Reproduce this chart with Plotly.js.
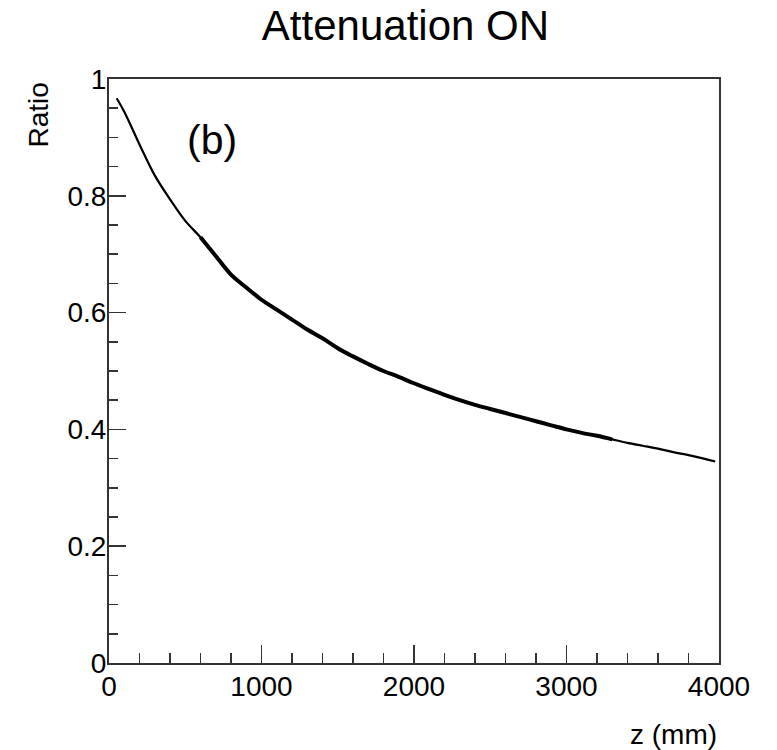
<!DOCTYPE html>
<html>
<head>
<meta charset="utf-8">
<script src="https://cdn.plot.ly/plotly-3.0.1.min.js"></script>
<style>html,body{margin:0;padding:0;background:#fff;}#plot{width:777px;height:750px;}</style>
</head>
<body>
<div id="plot"></div>
<script>
const zValues = [50, 100, 200, 300, 400, 500, 600, 700, 800, 900,
  1000, 1100, 1200, 1300, 1400, 1500, 1600, 1700, 1800, 1900,
  2000, 2100, 2200, 2300, 2400, 2500, 2600, 2700, 2800, 2900,
  3000, 3100, 3200, 3300, 3400, 3500, 3600, 3700, 3800, 3900, 3975];
const ratioValues = [0.967, 0.944, 0.888, 0.835, 0.794, 0.757, 0.729, 0.697, 0.665, 0.643,
  0.622, 0.605, 0.588, 0.571, 0.556, 0.539, 0.525, 0.512, 0.500, 0.490,
  0.479, 0.469, 0.459, 0.450, 0.442, 0.435, 0.428, 0.421, 0.414, 0.407,
  0.400, 0.394, 0.389, 0.383, 0.377, 0.372, 0.367, 0.361, 0.356, 0.350, 0.345];
const xTickVals = [0, 1000, 2000, 3000, 4000];
const xTickText = ['0', '1000', '2000', '3000', '4000'];
const yTickVals = [0, 0.2, 0.4, 0.6, 0.8, 1];
const yTickText = ['0', '0.2', '0.4', '0.6', '0.8', '1'];

// split the curve into thin ends and a thicker central part (as in the reference)
function segment(lo, hi) {
  const xs = [], ys = [];
  zValues.forEach((z, i) => { if (z >= lo && z <= hi) { xs.push(z); ys.push(ratioValues[i]); } });
  return {xs, ys};
}
const s1 = segment(0, 700), s2 = segment(600, 3300), s3 = segment(3200, 4000);
const traces = [
  {x: s1.xs, y: s1.ys, mode: 'lines', line: {color: '#000', width: 2.2, shape: 'spline'}, hoverinfo: 'skip'},
  {x: s3.xs, y: s3.ys, mode: 'lines', line: {color: '#000', width: 2.2, shape: 'spline'}, hoverinfo: 'skip'},
  {x: s2.xs, y: s2.ys, mode: 'lines', line: {color: '#000', width: 4, shape: 'spline'}, hoverinfo: 'skip'}
];

const font = 'Liberation Sans, Arial, Helvetica, sans-serif';
const axisCommon = {
  showgrid: false, zeroline: false, showline: true, mirror: true,
  linecolor: '#333', linewidth: 2, ticks: 'inside', tickcolor: '#333', tickwidth: 1.5,
  tickfont: {family: font, size: 28, color: '#000'}
};
const layout = {
  width: 777, height: 750,
  margin: {l: 109, r: 58, t: 79, b: 87},
  paper_bgcolor: '#fff', plot_bgcolor: '#fff',
  showlegend: false,
  title: {text: 'Attenuation ON', font: {family: font, size: 42, color: '#000'},
          xref: 'paper', x: 0.486, xanchor: 'center', yref: 'container', y: 0.966, yanchor: 'middle'},
  xaxis: Object.assign({}, axisCommon, {
    range: [0, 4000], tickmode: 'array', tickvals: xTickVals, ticktext: xTickText, ticklen: 18,
    ticklabelstandoff: -3,
    minor: {dtick: 200, ticklen: 10, ticks: 'inside', tickcolor: '#333', tickwidth: 1.5}
  }),
  yaxis: Object.assign({}, axisCommon, {
    range: [0, 1], tickmode: 'array', tickvals: yTickVals, ticktext: yTickText, ticklen: 17,
    ticklabelstandoff: -5,
    minor: {dtick: 0.05, ticklen: 9, ticks: 'inside', tickcolor: '#333', tickwidth: 1.5}
  }),
  annotations: [
    {text: 'Ratio', textangle: -90, xref: 'paper', yref: 'paper', x: -0.115, y: 0.998,
     xanchor: 'center', yanchor: 'top', showarrow: false, font: {family: font, size: 28, color: '#000'}},
    {text: 'z (mm)', xref: 'paper', yref: 'paper', x: 1, y: -0.123,
     xanchor: 'right', yanchor: 'middle', showarrow: false, font: {family: font, size: 28, color: '#000'}},
    {text: '(b)', xref: 'paper', yref: 'paper', x: 0.169, y: 0.895,
     xanchor: 'center', yanchor: 'middle', showarrow: false, font: {family: font, size: 41, color: '#000'}}
  ]
};
Plotly.newPlot('plot', traces, layout, {staticPlot: true, displayModeBar: false});
</script>
</body>
</html>
